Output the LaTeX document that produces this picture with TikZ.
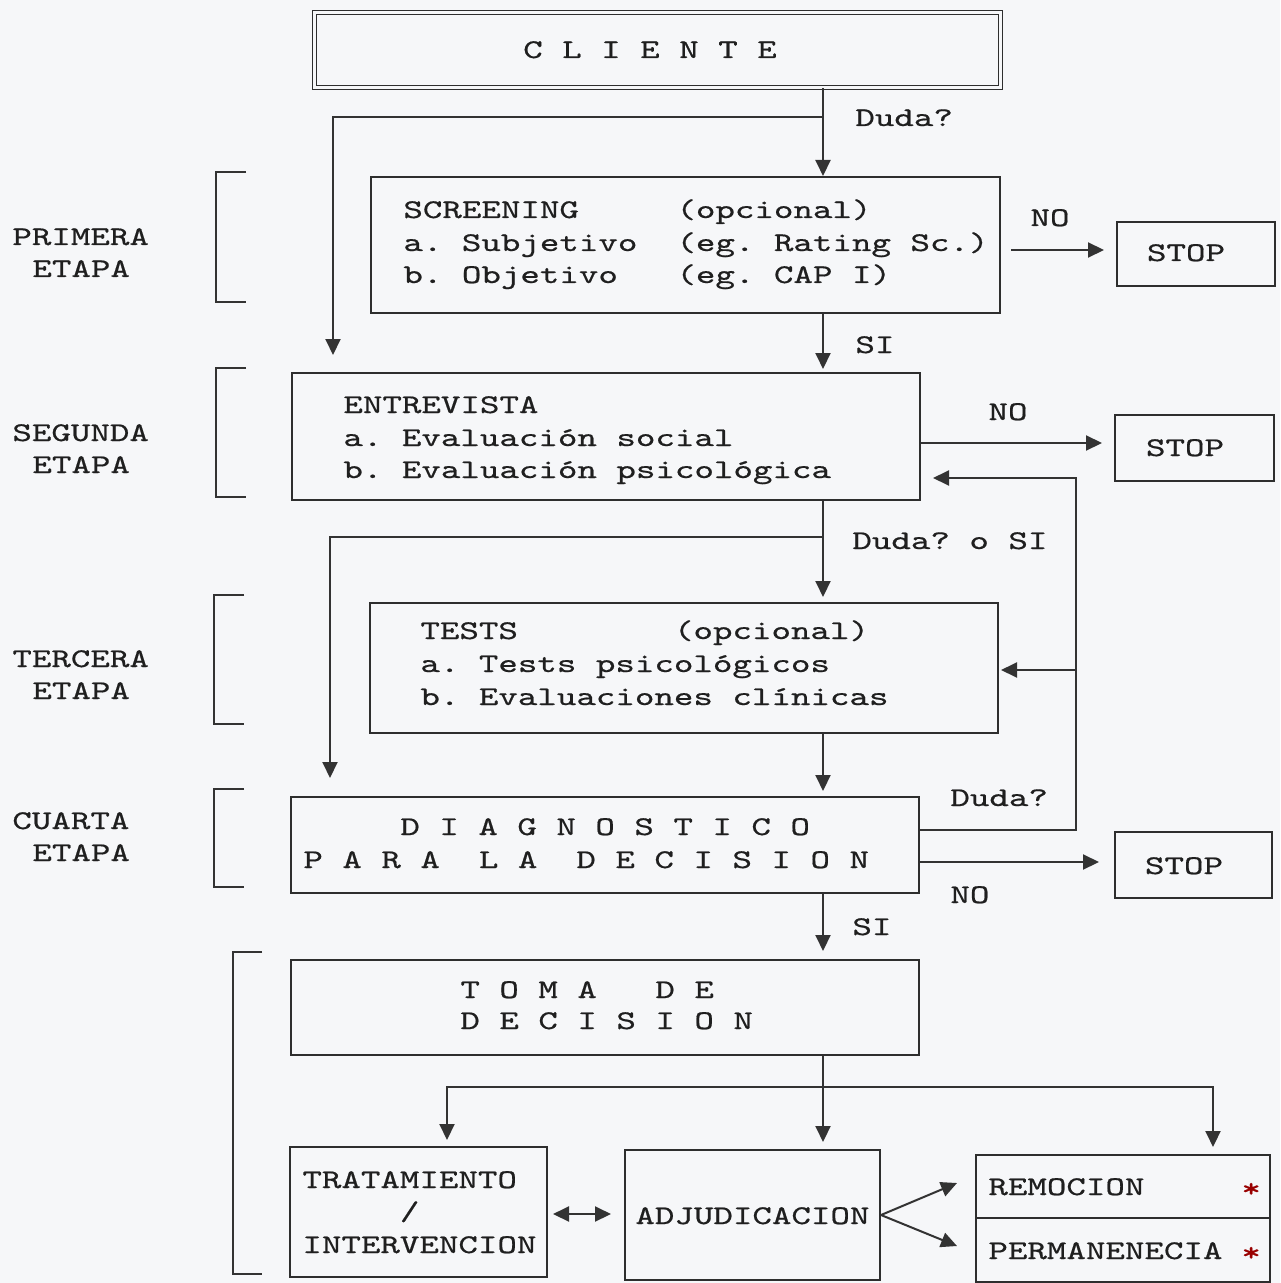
\documentclass[tikz,border=0pt]{standalone}
\usepackage{fontspec}
\setmonofont{lmmono10-regular.otf}[FakeStretch=1.376, FakeBold=0.6]
\usetikzlibrary{arrows.meta,fit}
\newcommand\spc[1]{\hspace*{\dimexpr\fontcharwd\font`\M*#1\relax}}
\frenchspacing
\definecolor{paper}{RGB}{246,247,249}
\begin{document}
\begin{tikzpicture}[x=0.5pt,y=-0.5pt,
  box/.style={draw=black!82, line width=1pt, inner sep=0pt, rectangle},
  txt/.style={font=\ttfamily\fontsize{13.5}{16}\selectfont, text=black!88, inner sep=0pt},
  tl/.style={txt, anchor=base west},
  tc/.style={txt, anchor=base},
  ln/.style={line width=1pt, draw=black!80},
  tip/.tip={Triangle[length=8pt,width=7.5pt]},
  arr/.style={ln, -tip},
  arrb/.style={ln, tip-tip},
  star/.style={tl, text=red!60!black},
]
\useasboundingbox[fill=paper] (0,0) rectangle (1280,1283);

% ---------- boxes ----------
\node[box, double=paper, double distance=1.5pt, line width=0.6pt, fit={(314.5,12.5) (1000.5,87.5)}] (cli) {};
\node[box, fit={(371,177) (1000,313)}] (scr) {};
\node[box, fit={(1117,222) (1275,286)}] (stop1) {};
\node[box, fit={(292,373) (920,500)}] (ent) {};
\node[box, fit={(1115,415) (1274,481)}] (stop2) {};
\node[box, fit={(370,603) (998,733)}] (tests) {};
\node[box, fit={(291,797) (919,893)}] (diag) {};
\node[box, fit={(1115,832) (1272,898)}] (stop3) {};
\node[box, fit={(291,960) (919,1055)}] (toma) {};
\node[box, fit={(290,1147) (547,1277)}] (trat) {};
\node[box, fit={(625,1150) (880,1280)}] (adj) {};
\node[box, fit={(976,1155) (1270,1218)}] (rem) {};
\node[box, fit={(976,1218) (1270,1282)}] (perm) {};

% ---------- brackets ----------
\draw[ln] (246,172) -- (216,172) -- (216,302) -- (246,302);
\draw[ln] (246,368) -- (216,368) -- (216,497) -- (246,497);
\draw[ln] (244,595) -- (214,595) -- (214,724) -- (244,724);
\draw[ln] (244,789) -- (214,789) -- (214,887) -- (244,887);
\draw[ln] (262,952) -- (233,952) -- (233,1274) -- (262,1274);

% ---------- texts ----------
\node[tc] (tcli) at (650,58) {C L I E N T E};
\node[tl] (dud1) at (855,126) {Duda?};
\node[tl] (s1) at (403,218) {SCREENING\spc{5}(opcional)};
\node[tl] (s2) at (403,251) {a. Subjetivo\spc{2}(eg. Rating Sc.)};
\node[tl] (s3) at (403,283) {b. Objetivo\spc{3}(eg. CAP I)};
\node[tc] (no1) at (1050,226) {NO};
\node[tc] (tst1) at (1186,261) {STOP};
\node[tl] (si1) at (855,353) {SI};
\node[tl] (e1a) at (12,245) {PRIMERA};
\node[tl] (e1b) at (32,277) {ETAPA};

\node[tl] (en1) at (343,413) {ENTREVISTA};
\node[tl] (en2) at (343,446) {a. Evaluación social};
\node[tl] (en3) at (343,478) {b. Evaluación psicológica};
\node[tc] (no2) at (1008,420) {NO};
\node[tc] (tst2) at (1185,456) {STOP};
\node[tl] (e2a) at (12,441) {SEGUNDA};
\node[tl] (e2b) at (32,473) {ETAPA};
\node[tl] (dud2) at (852,549) {Duda? o SI};

\node[tl] (te1) at (420,639) {TESTS\spc{8}(opcional)};
\node[tl] (te2) at (420,672) {a. Tests psicológicos};
\node[tl] (te3) at (420,705) {b. Evaluaciones clínicas};
\node[tl] (e3a) at (12,667) {TERCERA};
\node[tl] (e3b) at (32,699) {ETAPA};

\node[tl] (d1) at (400,835) {D I A G N O S T I C O};
\node[tl] (d2) at (303,868) {P A R A\spc{2}L A\spc{2}D E C I S I O N};
\node[tl] (dud3) at (950,806) {Duda?};
\node[tl] (no3) at (950,903) {NO};
\node[tc] (tst3) at (1184,874) {STOP};
\node[tl] (e4a) at (12,829) {CUARTA};
\node[tl] (e4b) at (32,861) {ETAPA};
\node[tl] (si3) at (852,935) {SI};

\node[tl] (to1) at (460,998) {T O M A\spc{3}D E};
\node[tl] (to2) at (460,1029) {D E C I S I O N};

\node[tl] (tr1) at (302,1188) {TRATAMIENTO};
\node[tl] (tr2) at (302,1220) {\spc{5}/};
\node[tl] (tr3) at (302,1253) {INTERVENCION};
\node[tl] (ad1) at (635,1224) {ADJUDICACION};
\node[tl] (re1) at (988,1195) {REMOCION};
\node[star] (re2) at (1241,1197) {*};
\node[tl] (pe1) at (988,1259) {PERMANENECIA};
\node[star] (pe2) at (1241,1261) {*};

% ---------- connectors ----------
\coordinate (c1) at (823,117);
\coordinate (c1e) at (333,355);
\coordinate (c2) at (823,537);
\coordinate (c2e) at (330,778);
\coordinate (fb) at (1076,478);
\coordinate (fb2) at (1076,670);
\coordinate (c4) at (823,1087);
\coordinate (cl) at (447,1087);
\coordinate (cr) at (1213,1087);
\coordinate (f1) at (957,1183);
\coordinate (f2) at (957,1246);

\draw[arr] (cli.south -| c1) -- (scr.north -| c1);
\draw[arr] (c1) -| (c1e);
\draw[arr, shorten <=5pt, shorten >=6pt] ([yshift=-2.5pt]scr.east) -- ([yshift=-2.5pt]scr.east -| stop1.west);
\draw[arr, shorten >=1.5pt] (scr.south -| c1) -- (ent.north -| c1);
\draw[arr, shorten >=6pt] ([yshift=-3.25pt]ent.east) -- ([yshift=-3.25pt]ent.east -| stop2.west);
\draw[arr, shorten >=2.5pt] (ent.south -| c1) -- (tests.north -| c1);
\draw[arr] (c2) -| (c2e);
\draw[arr, shorten >=2.5pt] (tests.south -| c1) -- (diag.north -| c1);
\draw[arr, shorten >=6pt] ([yshift=7.5pt]diag.east) -| (fb) -- (fb -| ent.east);
\draw[arr, shorten >=1pt] (fb2) -- (fb2 -| tests.east);
\draw[arr, shorten >=7.5pt] ([yshift=-8.5pt]diag.east) -- ([yshift=-8.5pt]diag.east -| stop3.west);
\draw[arr, shorten >=4pt] (diag.south -| c1) -- (toma.north -| c1);
\draw[arr, shorten >=3.5pt] (toma.south -| c1) -- (adj.north -| c1);
\draw[arr, shorten >=3pt] (c4) -| (cl |- trat.north);
\draw[arr, shorten >=3.5pt] (c4) -| (cr |- rem.north);
\draw[arrb, shorten <=2.5pt, shorten >=6.5pt] ([yshift=-1pt]trat.east) -- ([yshift=-1pt]trat.east -| adj.west);
\draw[arr] (adj.east) -- (f1);
\draw[arr] (adj.east) -- (f2);
\end{tikzpicture}
\end{document}
